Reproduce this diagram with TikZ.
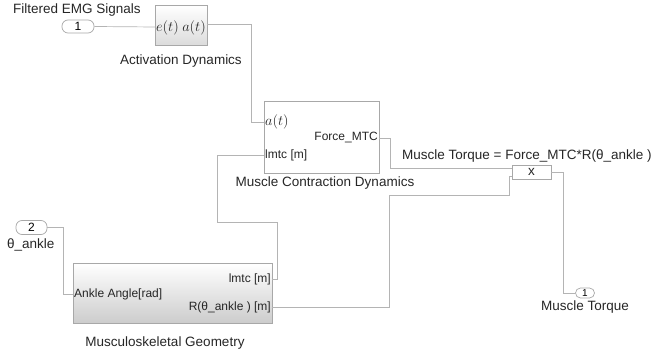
\documentclass[tikz,border=0pt]{standalone}
\usepackage[no-math]{fontspec}
\setmainfont{Liberation Sans}
\definecolor{wirec}{HTML}{B4B4B4}
\definecolor{blkc}{HTML}{A8A8A8}
\begin{document}
\begin{tikzpicture}[x=1pt,y=-1pt,
  wire/.style={draw=wirec, line width=0.7pt},
  blk/.style={draw=blkc, line width=0.7pt, inner sep=0pt, anchor=north west},
  portlbl/.style={font=\fontsize{12}{14}\selectfont, inner sep=1pt, text=black!85},
  mathlbl/.style={font=\fontsize{13.5}{15}\selectfont, inner sep=1pt, text=black!85},
  lbl/.style={font=\fontsize{13.5}{16}\selectfont, inner sep=0pt, text=black!85},
  io/.style={draw=blkc, line width=0.7pt, rounded corners=6pt, inner sep=0pt,
             font=\fontsize{12}{14}\selectfont}]
\useasboundingbox (0,0) rectangle (660,363);

% ---- blocks ----
\node[blk, minimum width=52pt, minimum height=40pt, top color=white, bottom color=gray!28] (act) at (155,5) {};
\node[blk, minimum width=115pt, minimum height=72pt, fill=white] (mcd) at (264,101) {};
\node[blk, minimum width=39pt, minimum height=14pt, fill=white] (prod) at (512,165) {};
\node[blk, minimum width=199pt, minimum height=60pt, top color=white, bottom color=gray!40] (mg) at (73,263) {};

\node[io, minimum width=32pt, minimum height=13pt] (in1) at (78,26.5) {1};
\node[io, minimum width=31pt, minimum height=14pt] (in2) at (31.5,227.5) {2};
\node[io, minimum width=19pt, minimum height=10pt, rounded corners=5pt,
      font=\fontsize{10}{12}\selectfont] (out1) at (585,293) {1};

% ---- block texts ----
\node[mathlbl, anchor=west] (actE) at (155,28) {$e(t)$};
\node[mathlbl, anchor=east] (actA) at (207,28) {$a(t)$};
\node[mathlbl, anchor=west] (mcdA) at (264,122) {$a(t)$};
\node[portlbl, anchor=east] (mcdF) at (379,138) {Force\_MTC};
\node[portlbl, anchor=west] (mcdL) at (264,155) {lmtc [m]};
\node[portlbl, anchor=west] (mgA) at (73,294) {Ankle Angle[rad]};
\node[portlbl, anchor=east] (mgL) at (272,279) {lmtc [m]};
\node[portlbl, anchor=east] (mgR) at (272,307) {R(θ\_ankle ) [m]};
\node[lbl] (prodX) at (531.5,172) {x};

% ---- labels ----
\node[lbl, anchor=west] (t1) at (13,10) {Filtered EMG Signals};
\node[lbl] (t2) at (181,61) {Activation Dynamics};
\node[lbl] (t3) at (325,183) {Muscle Contraction Dynamics};
\node[lbl, anchor=west] (t4) at (402,156) {Muscle Torque = Force\_MTC*R(θ\_ankle )};
\node[lbl, anchor=west] (t5) at (7,245) {θ\_ankle};
\node[lbl] (t6) at (165,343) {Musculoskeletal Geometry};
\node[lbl] (t7) at (585,307.5) {Muscle Torque};

% ---- port coordinates ----
\coordinate (pActIn) at (155,27);
\coordinate (pActOut) at (207,24);
\coordinate (pMcdA) at (264,122);
\coordinate (pMcdL) at (264,155);
\coordinate (pMcdF) at (379,138);
\coordinate (pMgIn) at (73,294);
\coordinate (pMgL) at (272,279);
\coordinate (pMgR) at (272,307);
\coordinate (pProd1) at (512,168);
\coordinate (pProd2) at (512,176);
\coordinate (pProdOut) at (551,172);

% ---- wires ----
\draw[wire] (in1.east) -- (pActIn);
\draw[wire] (pActOut) -| (251,122) -- (pMcdA);
\draw[wire] (pMcdF) -| (390,168) -- (pProd1);
\draw[wire] (pMgL) -| (277,222) -| (217,155) -- (pMcdL);
\draw[wire] (in2.east) -| (63,294) -- (pMgIn);
\draw[wire] (pMgR) -| (389,195) -| (509,176) -- (pProd2);
\draw[wire] (pProdOut) -| (563,293) -- (out1.west);
\end{tikzpicture}
\end{document}
